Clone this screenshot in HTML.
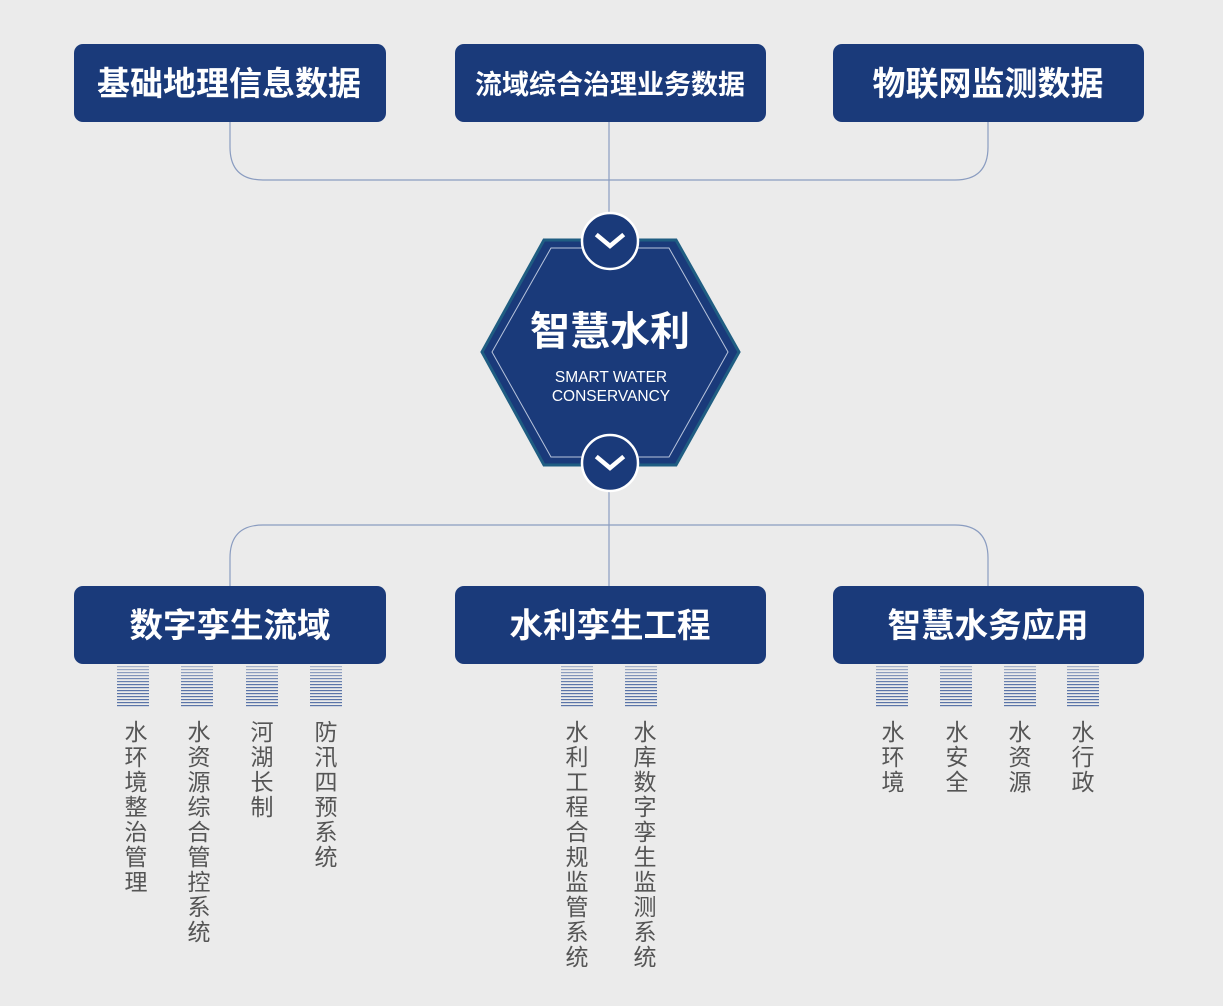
<!DOCTYPE html>
<html><head><meta charset="utf-8"><style>
html,body{margin:0;padding:0;background:#ebebeb;}
svg{display:block;}
text{font-family:"Liberation Sans","Noto Sans CJK SC",sans-serif;}
</style></head><body>
<svg width="1223" height="1006" viewBox="0 0 1223 1006" xmlns="http://www.w3.org/2000/svg">
<rect width="1223" height="1006" fill="#ebebeb"/>
<defs>
<pattern id="st" x="0" y="666" width="10" height="3" patternUnits="userSpaceOnUse">
<rect x="0" y="0" width="10" height="1.2" fill="#5a74a8"/>
</pattern>
<linearGradient id="fade" x1="0" y1="0" x2="0" y2="1"><stop offset="0" stop-color="#ebebeb" stop-opacity="0.55"/><stop offset="1" stop-color="#ebebeb" stop-opacity="0"/></linearGradient>
</defs>
<g fill="none" stroke="#8a9cc0" stroke-width="1.2">
<path d="M230 122 V147 Q230 180 263 180 H955 Q988 180 988 147 V122"/>
<path d="M609 122 V214"/>
<path d="M609 492 V586"/>
<path d="M230 586 V558 Q230 525 263 525 H955 Q988 525 988 558 V586"/>
</g>
<g fill="#1a3a7a">
<rect x="74" y="44" width="312" height="78" rx="9"/>
<rect x="455" y="44" width="311" height="78" rx="9"/>
<rect x="833" y="44" width="311" height="78" rx="9"/>
<rect x="74" y="586" width="312" height="78" rx="9"/>
<rect x="455" y="586" width="311" height="78" rx="9"/>
<rect x="833" y="586" width="311" height="78" rx="9"/>
</g>
<g fill="#fff" font-weight="bold" text-anchor="middle">
<text x="229" y="95" font-size="33">基础地理信息数据</text>
<text x="610" y="94" font-size="27">流域综合治理业务数据</text>
<text x="988" y="95" font-size="33">物联网监测数据</text>
<text x="230" y="637" font-size="33.5">数字孪生流域</text>
<text x="610" y="637" font-size="33.5">水利孪生工程</text>
<text x="988" y="637" font-size="33.5">智慧水务应用</text>
</g>
<polygon points="544,240 676,240 739,352 676,465 544,465 482,352" fill="#1a3a7a" stroke="#1f5d82" stroke-width="3"/>
<polygon points="551,248 669,248 728,352 669,457 551,457 492,352" fill="none" stroke="#b8c4dc" stroke-width="1"/>
<text x="610" y="345" font-size="40" font-weight="bold" fill="#fff" text-anchor="middle">智慧水利</text>
<text x="611" y="382" font-size="15.5" fill="#fff" text-anchor="middle">SMART WATER</text>
<text x="611" y="401" font-size="15.5" fill="#fff" text-anchor="middle">CONSERVANCY</text>
<g>
<circle cx="610" cy="241" r="28" fill="#1a3a7a" stroke="#fff" stroke-width="2.5"/>
<path d="M598 236 L610 246 L622 236" fill="none" stroke="#fff" stroke-width="4.5" stroke-linecap="square"/>
<circle cx="610" cy="463" r="28" fill="#1a3a7a" stroke="#fff" stroke-width="2.5"/>
<path d="M598 458 L610 468 L622 458" fill="none" stroke="#fff" stroke-width="4.5" stroke-linecap="square"/>
</g>
<g id="stripes">
<rect x="117" y="666" width="32" height="42" fill="url(#st)"/>
<rect x="181" y="666" width="32" height="42" fill="url(#st)"/>
<rect x="246" y="666" width="32" height="42" fill="url(#st)"/>
<rect x="310" y="666" width="32" height="42" fill="url(#st)"/>
<rect x="561" y="666" width="32" height="42" fill="url(#st)"/>
<rect x="625" y="666" width="32" height="42" fill="url(#st)"/>
<rect x="876" y="666" width="32" height="42" fill="url(#st)"/>
<rect x="940" y="666" width="32" height="42" fill="url(#st)"/>
<rect x="1004" y="666" width="32" height="42" fill="url(#st)"/>
<rect x="1067" y="666" width="32" height="42" fill="url(#st)"/>
</g>
<rect x="110" y="665" width="1000" height="20" fill="url(#fade)"/>
<g fill="#555" font-size="23" text-anchor="middle">
<text x="136" y="740"><tspan x="136" dy="0">水</tspan><tspan x="136" dy="25">环</tspan><tspan x="136" dy="25">境</tspan><tspan x="136" dy="25">整</tspan><tspan x="136" dy="25">治</tspan><tspan x="136" dy="25">管</tspan><tspan x="136" dy="25">理</tspan></text>
<text x="199" y="740"><tspan x="199" dy="0">水</tspan><tspan x="199" dy="25">资</tspan><tspan x="199" dy="25">源</tspan><tspan x="199" dy="25">综</tspan><tspan x="199" dy="25">合</tspan><tspan x="199" dy="25">管</tspan><tspan x="199" dy="25">控</tspan><tspan x="199" dy="25">系</tspan><tspan x="199" dy="25">统</tspan></text>
<text x="262" y="740"><tspan x="262" dy="0">河</tspan><tspan x="262" dy="25">湖</tspan><tspan x="262" dy="25">长</tspan><tspan x="262" dy="25">制</tspan></text>
<text x="326" y="740"><tspan x="326" dy="0">防</tspan><tspan x="326" dy="25">汛</tspan><tspan x="326" dy="25">四</tspan><tspan x="326" dy="25">预</tspan><tspan x="326" dy="25">系</tspan><tspan x="326" dy="25">统</tspan></text>
<text x="577" y="740"><tspan x="577" dy="0">水</tspan><tspan x="577" dy="25">利</tspan><tspan x="577" dy="25">工</tspan><tspan x="577" dy="25">程</tspan><tspan x="577" dy="25">合</tspan><tspan x="577" dy="25">规</tspan><tspan x="577" dy="25">监</tspan><tspan x="577" dy="25">管</tspan><tspan x="577" dy="25">系</tspan><tspan x="577" dy="25">统</tspan></text>
<text x="645" y="740"><tspan x="645" dy="0">水</tspan><tspan x="645" dy="25">库</tspan><tspan x="645" dy="25">数</tspan><tspan x="645" dy="25">字</tspan><tspan x="645" dy="25">孪</tspan><tspan x="645" dy="25">生</tspan><tspan x="645" dy="25">监</tspan><tspan x="645" dy="25">测</tspan><tspan x="645" dy="25">系</tspan><tspan x="645" dy="25">统</tspan></text>
<text x="893" y="740"><tspan x="893" dy="0">水</tspan><tspan x="893" dy="25">环</tspan><tspan x="893" dy="25">境</tspan></text>
<text x="957" y="740"><tspan x="957" dy="0">水</tspan><tspan x="957" dy="25">安</tspan><tspan x="957" dy="25">全</tspan></text>
<text x="1020" y="740"><tspan x="1020" dy="0">水</tspan><tspan x="1020" dy="25">资</tspan><tspan x="1020" dy="25">源</tspan></text>
<text x="1083" y="740"><tspan x="1083" dy="0">水</tspan><tspan x="1083" dy="25">行</tspan><tspan x="1083" dy="25">政</tspan></text>
</g>
</svg>
</body></html>
